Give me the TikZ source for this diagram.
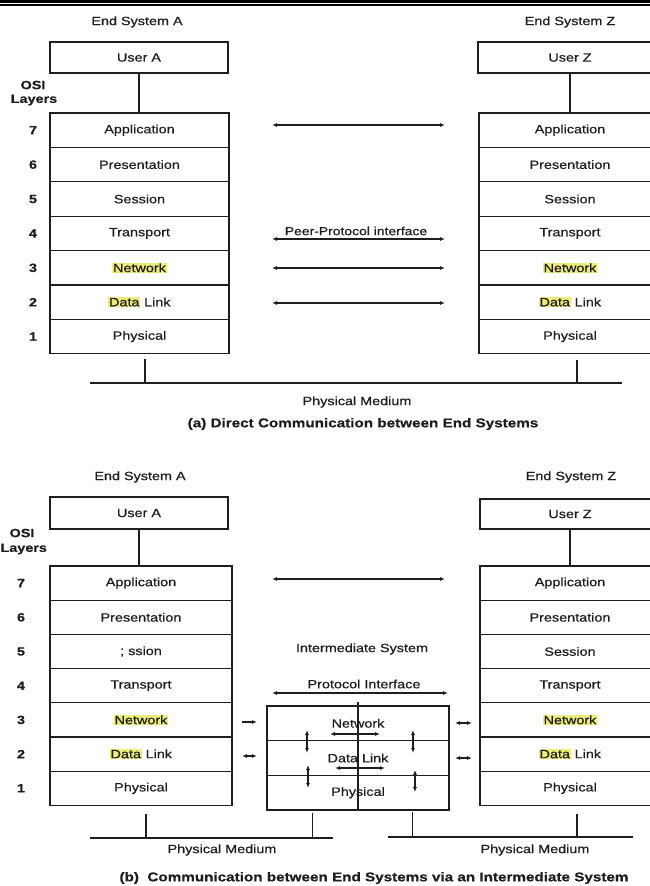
\documentclass[tikz,border=0pt]{standalone}
\usepackage{fontspec}
\setmainfont[FakeStretch=1.2,FakeBold=0.6]{Liberation Sans}
\usetikzlibrary{arrows.meta,calc}

\definecolor{ink}{HTML}{1E1E1E}
\definecolor{hlyellow}{HTML}{EDED7A}
% yellow text marker used on some layer names
\newcommand{\hlt}[1]{{\setlength{\fboxsep}{0.6pt}\colorbox{hlyellow}{#1}}}

\begin{document}
\begin{tikzpicture}[x=1pt,y=-1pt,
  txt/.style={text=ink, inner sep=0pt, font=\fontsize{12}{14}\selectfont},
  numlbl/.style={txt, font=\bfseries\fontsize{12}{14}\selectfont},
  caption/.style={txt, font=\bfseries\fontsize{12.7}{15}\selectfont},
  box/.style={txt, draw=ink, line width=1.1pt},
  layer/.style={box, minimum height=34.4pt},
  ilayer/.style={box, minimum width=182pt, minimum height=34.67pt},
  wire/.style={draw=ink, line width=1.1pt},
  link/.style={draw=ink, line width=1.1pt, >={Latex[length=5pt,width=4pt]}},
]
\useasboundingbox (0,0) rectangle (650,886);
\clip (0,0) rectangle (650,886);

% page rule
\draw[black, line width=3pt] (0,1.5) -- (650,1.5);
\draw[black, line width=1.5pt] (0,5.2) -- (650,5.2);

% ===================== (a) direct communication =====================
\node[txt] (aTitleA) at (137,22) {End System A};
\node[txt] (aTitleZ) at (570,22) {End System Z};
\node[box, minimum width=178pt, minimum height=31pt] (aUA) at (139,57.5) {User A};
\node[box, minimum width=184pt, minimum height=31pt] (aUZ) at (570,57.5) {User Z};
\node[numlbl] (aOSI) at (33,85) {OSI};
\node[numlbl] (aLay) at (34,100) {Layers};

\foreach \n/\t [count=\i from 0] in
  {7/Application,6/Presentation,5/Session,4/Transport,
   3/\hlt{Network},2/{\hlt{Data} Link},1/Physical}{
  \node[layer, minimum width=179pt] (aL\n) at (139.5,130.2+34.4*\i) {\t};
  \node[layer, minimum width=182pt] (aR\n) at (570,130.2+34.4*\i) {\t};
  \node[numlbl] (aN\n) at (33,130.2+34.4*\i) {\n};
}
\draw[wire] (aUA.south) -- (aUA.south |- aL7.north);
\draw[wire] (aUZ.south) -- (aUZ.south |- aR7.north);

% peer arrows
\coordinate (ap7l) at (272,125);  \coordinate (ap7r) at (445,125);
\coordinate (ap4l) at (272,239);  \coordinate (ap4r) at (445,239);
\coordinate (ap3l) at (272,268);  \coordinate (ap3r) at (445,268);
\coordinate (ap2l) at (272,303);  \coordinate (ap2r) at (445,303);
\draw[link,<->] (ap7l) -- (ap7r);
\draw[link,<->] (ap4l) -- (ap4r);
\draw[link,<->] (ap3l) -- (ap3r);
\draw[link,<->] (ap2l) -- (ap2r);
\node[txt, font=\fontsize{11.6}{14}\selectfont] (aPeer) at (356,231) {Peer-Protocol interface};

% physical medium
\coordinate (amL) at (90,383); \coordinate (amR) at (622,383);
\draw[wire] (amL) -- (amR);
\coordinate (atL) at ($(aL1.south)+(5.5,5)$);
\coordinate (atR) at ($(aR1.south)+(7,6)$);
\draw[wire] (atL) -- (atL |- amL);
\draw[wire] (atR) -- (atR |- amR);
\node[txt] (aMed) at (357,402) {Physical Medium};
\node[caption] (aCap) at (363,424) {(a) Direct Communication between End Systems};

% ============ (b) communication via an intermediate system ============
\node[txt] (bTitleA) at (140,477) {End System A};
\node[txt] (bTitleZ) at (571,477) {End System Z};
\node[box, minimum width=178pt, minimum height=32pt] (bUA) at (139,513) {User A};
\node[box, minimum width=180pt, minimum height=30pt] (bUZ) at (570,514) {User Z};
\node[numlbl] (bOSI) at (22,533) {OSI};
\node[numlbl, anchor=west] (bLay) at (0.3,549) {Layers};

\foreach \n/\tl/\tr [count=\i from 0] in
  {7/Application/Application,6/Presentation/Presentation,5/{; ssion}/Session,
   4/Transport/Transport,3/\hlt{Network}/\hlt{Network},
   2/{\hlt{Data} Link}/{\hlt{Data} Link},1/Physical/Physical}{
  \node[layer, minimum width=182pt, minimum height=34.2pt] (bL\n) at (141,583.1+34.2*\i) {\tl};
  \node[layer, minimum width=180pt, minimum height=34.2pt] (bR\n) at (570,583.1+34.2*\i) {\tr};
  \node[numlbl] (bN\n) at (21,583.1+34.2*\i) {\n};
}
\draw[wire] (bUA.south) -- (bUA.south |- bL7.north);
\draw[wire] (bUZ.south) -- (bUZ.south |- bR7.north);

\coordinate (bp7l) at (272,579); \coordinate (bp7r) at (445,579);
\draw[link,<->] (bp7l) -- (bp7r);

% intermediate system
\node[txt] (bInt) at (362,649) {Intermediate System};
\node[txt] (bProt) at (364,684) {Protocol Interface};
\coordinate (bpil) at (272,693); \coordinate (bpir) at (448,693);
\draw[link,<->] (bpil) -- (bpir);

\node[ilayer] (iN) at (358,723.3) {Network};
\node[ilayer] (iD) at (358,758) {Data Link};
\node[ilayer] (iP) at (358,792.7) {Physical};
\draw[wire] ($(iN.north)+(0,-3)$) -- (iP.south);

% transfers inside the intermediate system
\coordinate (iNa) at (330,734); \coordinate (iNb) at (380,734);
\coordinate (iDa) at (335,768); \coordinate (iDb) at (385,768);
\draw[link,<->] (iNa) -- (iNb);
\draw[link,<->] (iDa) -- (iDb);
\coordinate (iv1a) at (307,730); \coordinate (iv1b) at (307,753);
\coordinate (iv2a) at (308,765); \coordinate (iv2b) at (308,788);
\coordinate (iv3a) at (413,730); \coordinate (iv3b) at (413,753);
\coordinate (iv4a) at (415,770); \coordinate (iv4b) at (415,792);
\draw[link,<->] (iv1a) -- (iv1b);
\draw[link,<->] (iv2a) -- (iv2b);
\draw[link,<->] (iv3a) -- (iv3b);
\draw[link,<->] (iv4a) -- (iv4b);

% links between the end systems and the intermediate system
\coordinate (lNa) at (242,722); \coordinate (lNb) at (257,722);
\coordinate (lDa) at (242,756); \coordinate (lDb) at (257,756);
\coordinate (rNa) at (455,723); \coordinate (rNb) at (472,723);
\coordinate (rDa) at (455,758); \coordinate (rDb) at (472,758);
\draw[link,->] (lNa) -- (lNb);
\draw[link,<->] (lDa) -- (lDb);
\draw[link,<->] (rNa) -- (rNb);
\draw[link,<->] (rDa) -- (rDb);

% physical media
\coordinate (bm1L) at (90,838); \coordinate (bm1R) at (333,838);
\coordinate (bm2L) at (388,837); \coordinate (bm2R) at (633,837);
\draw[wire] (bm1L) -- (bm1R);
\draw[wire] (bm2L) -- (bm2R);
\coordinate (bt1) at ($(bL1.south)+(5,8)$);
\coordinate (bt2) at ($(iP.south west)+(46,2)$);
\coordinate (bt3) at ($(iP.south east)+(-37,1)$);
\coordinate (bt4) at ($(bR1.south)+(7,8)$);
\draw[wire] (bt1) -- (bt1 |- bm1L);
\draw[wire] (bt2) -- (bt2 |- bm1L);
\draw[wire] (bt3) -- (bt3 |- bm2L);
\draw[wire] (bt4) -- (bt4 |- bm2L);
\node[txt] (bMed1) at (222,850) {Physical Medium};
\node[txt] (bMed2) at (535,850) {Physical Medium};
\node[caption] (bCap) at (374,878) {(b)\ \ Communication between End Systems via an Intermediate System};
\end{tikzpicture}
\end{document}
